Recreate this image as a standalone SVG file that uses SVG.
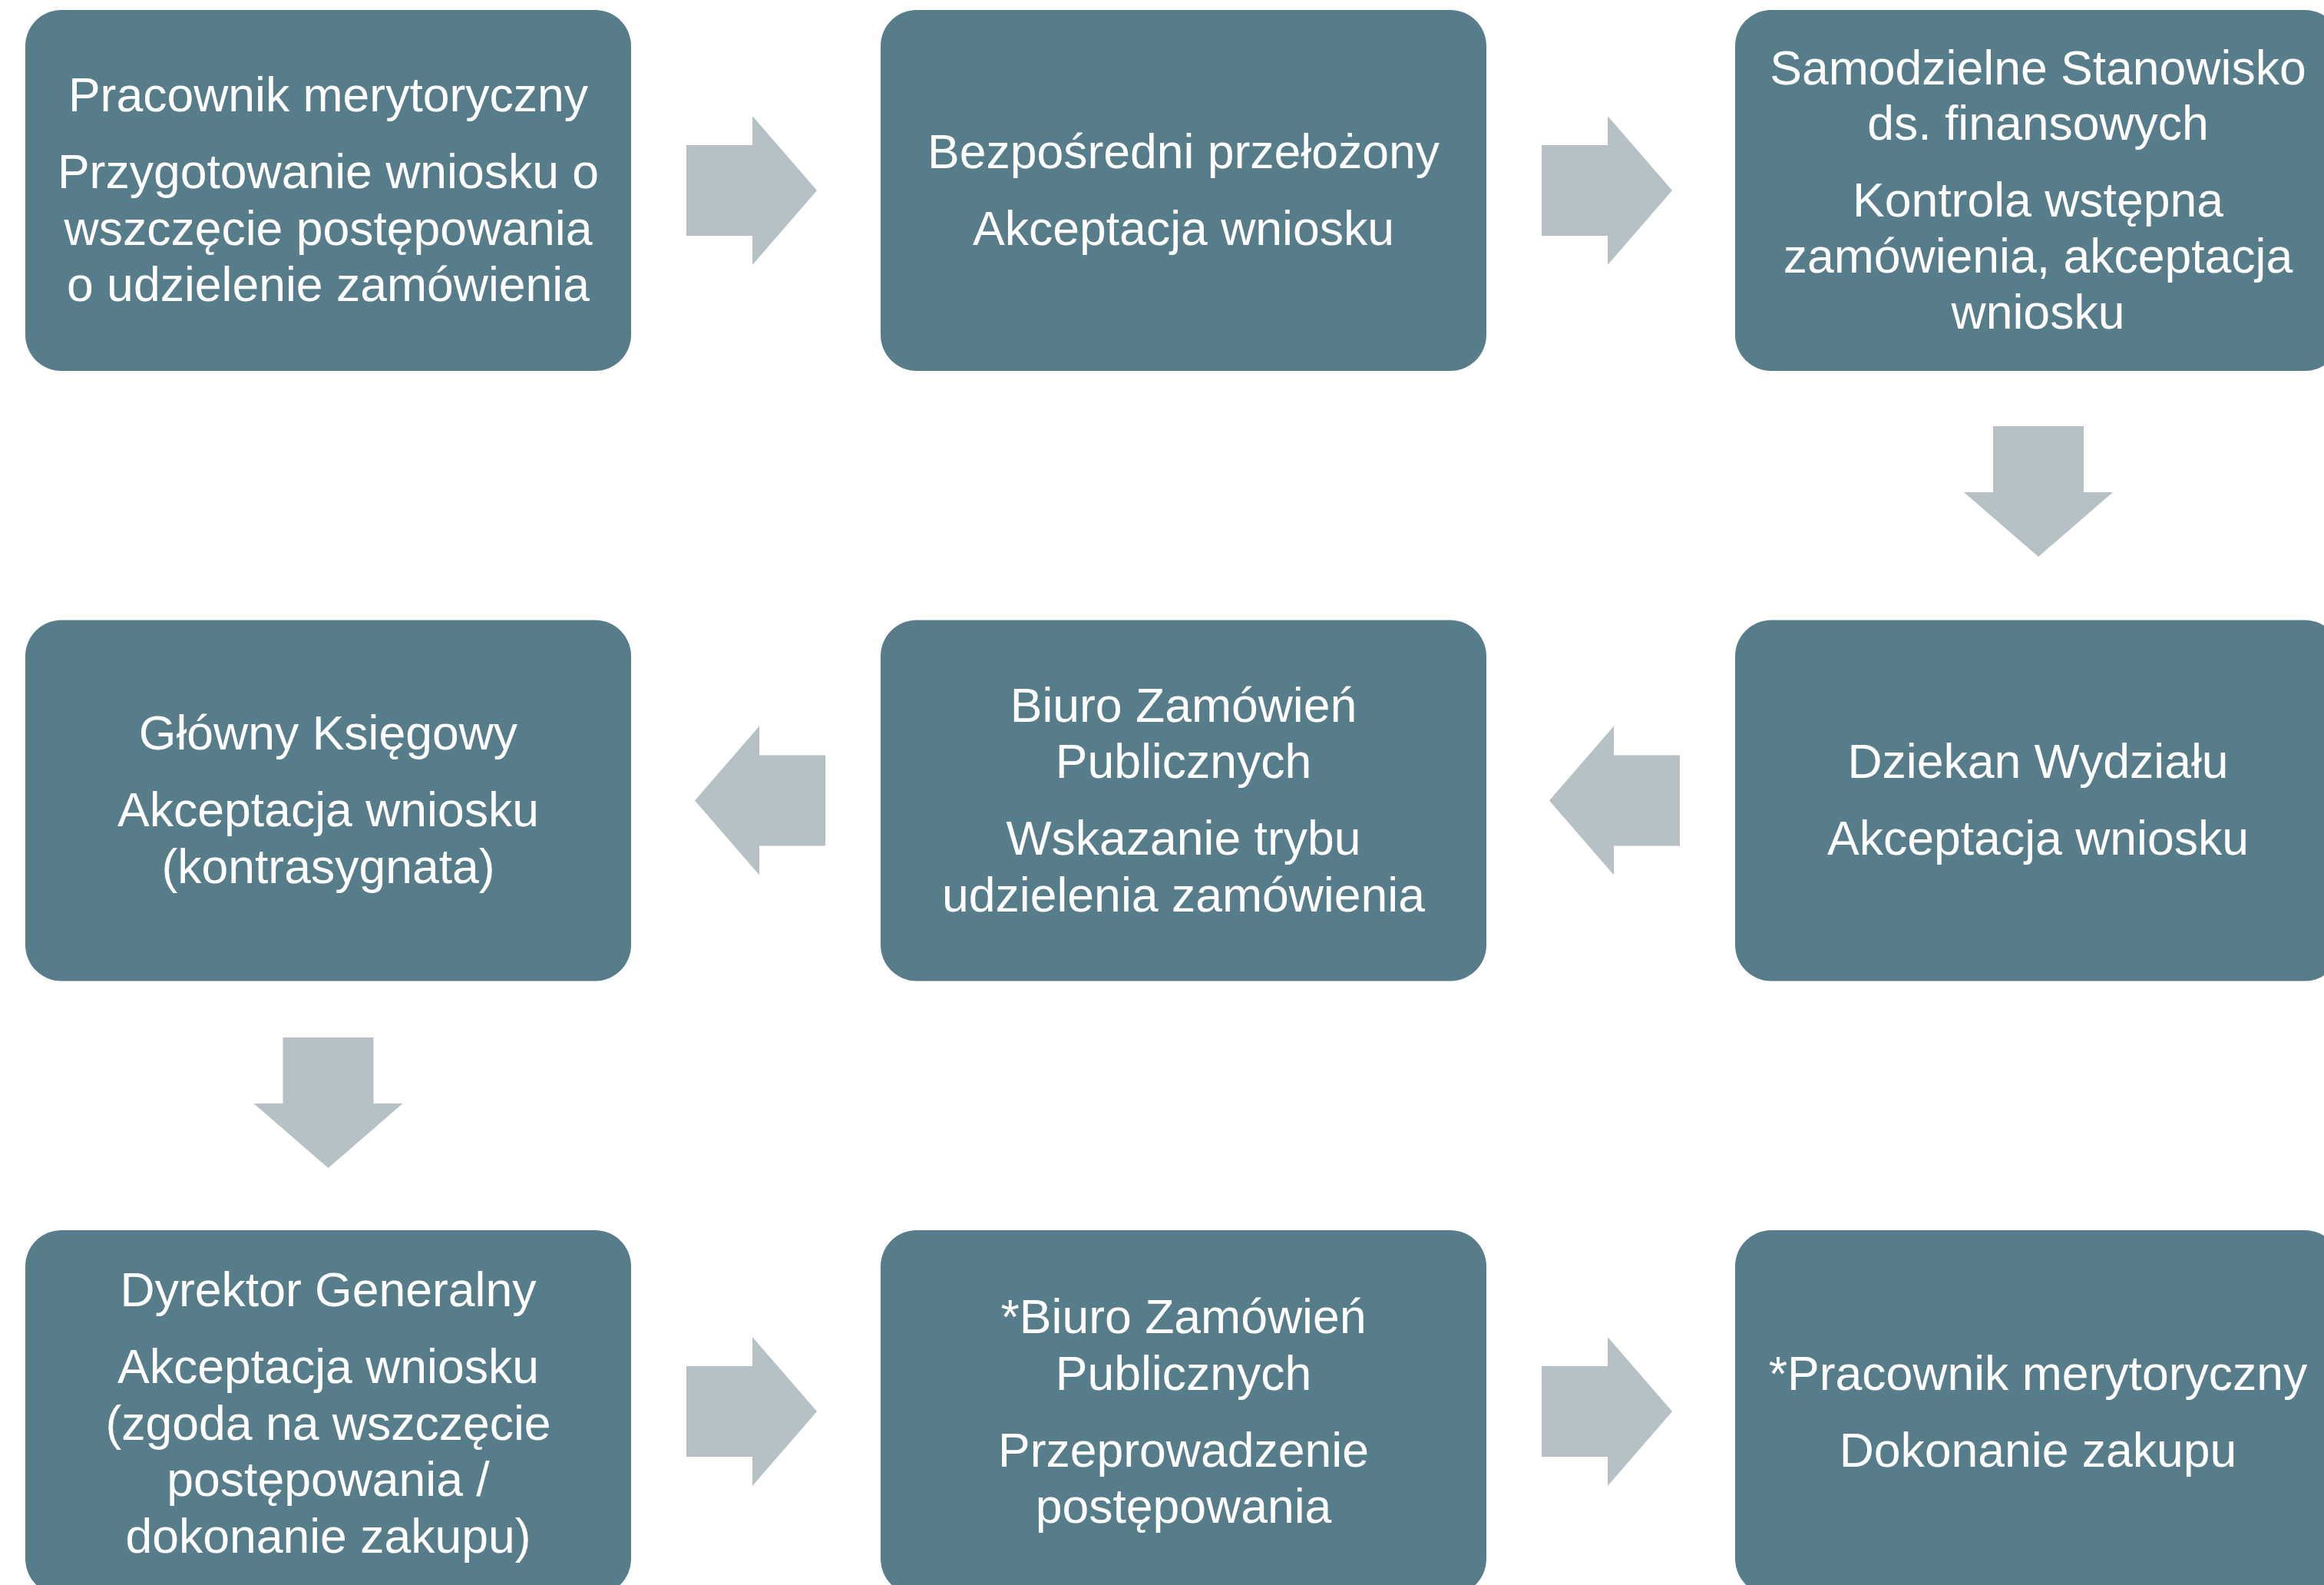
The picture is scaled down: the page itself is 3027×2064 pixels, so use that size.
<svg xmlns="http://www.w3.org/2000/svg" xmlns:xlink="http://www.w3.org/1999/xlink" width="3027" height="2064" viewBox="0 0 3027 2064">
<style>
.box{fill:#577D8A;}
.arr{fill:#B5C1C5;}
text{font-family:"Liberation Sans",Arial,sans-serif;font-size:62.5px;fill:#FFFFFF;text-anchor:middle;}
</style>
<defs>
<polygon id="ar" points="0,-59 86,-59 86,-97 170,0 86,97 86,59 0,59"/>
</defs>
<rect width="3027" height="2064" fill="#FFFFFF"/>
<g id="connectors" class="arr">
<use xlink:href="#ar" transform="translate(894,248)"/>
<use xlink:href="#ar" transform="translate(2008,248)"/>
<use xlink:href="#ar" transform="translate(2655,555) rotate(90)"/>
<use xlink:href="#ar" transform="translate(2188,1042.5) scale(-1,1)"/>
<use xlink:href="#ar" transform="translate(1075,1042.5) scale(-1,1)"/>
<use xlink:href="#ar" transform="translate(427.5,1351) rotate(90)"/>
<use xlink:href="#ar" transform="translate(894,1838)"/>
<use xlink:href="#ar" transform="translate(2008,1838)"/>
</g>
<g id="n1">
<rect class="box" x="33" y="13" width="789" height="470" rx="47"/>
<text x="427.5" y="145">Pracownik merytoryczny</text>
<text x="427.5" y="245">Przygotowanie wniosku o</text>
<text x="427.5" y="318.5">wszczęcie postępowania</text>
<text x="427.5" y="392">o udzielenie zamówienia</text>
</g>
<g id="n2">
<rect class="box" x="1147" y="13" width="789" height="470" rx="47"/>
<text x="1541.5" y="218.5">Bezpośredni przełożony</text>
<text x="1541.5" y="318.5">Akceptacja wniosku</text>
</g>
<g id="n3">
<rect class="box" x="2260" y="13" width="789" height="470" rx="47"/>
<text x="2654.5" y="110">Samodzielne Stanowisko</text>
<text x="2654.5" y="182">ds. finansowych</text>
<text x="2654.5" y="282">Kontrola wstępna</text>
<text x="2654.5" y="355">zamówienia, akceptacja</text>
<text x="2654.5" y="428">wniosku</text>
</g>
<g id="n4">
<rect class="box" x="2260" y="807.5" width="789" height="470" rx="47"/>
<text x="2654.5" y="1013">Dziekan Wydziału</text>
<text x="2654.5" y="1113">Akceptacja wniosku</text>
</g>
<g id="n5">
<rect class="box" x="1147" y="807.5" width="789" height="470" rx="47"/>
<text x="1541.5" y="940">Biuro Zamówień</text>
<text x="1541.5" y="1013">Publicznych</text>
<text x="1541.5" y="1113">Wskazanie trybu</text>
<text x="1541.5" y="1186.5">udzielenia zamówienia</text>
</g>
<g id="n6">
<rect class="box" x="33" y="807.5" width="789" height="470" rx="47"/>
<text x="427.5" y="976">Główny Księgowy</text>
<text x="427.5" y="1076">Akceptacja wniosku</text>
<text x="427.5" y="1149.5">(kontrasygnata)</text>
</g>
<g id="n7">
<rect class="box" x="33" y="1602" width="789" height="475" rx="47"/>
<text x="427.5" y="1701">Dyrektor Generalny</text>
<text x="427.5" y="1801">Akceptacja wniosku</text>
<text x="427.5" y="1874.5">(zgoda na wszczęcie</text>
<text x="427.5" y="1948">postępowania /</text>
<text x="427.5" y="2021.5">dokonanie zakupu)</text>
</g>
<g id="n8">
<rect class="box" x="1147" y="1602" width="789" height="475" rx="47"/>
<text x="1541.5" y="1736">*Biuro Zamówień</text>
<text x="1541.5" y="1809.5">Publicznych</text>
<text x="1541.5" y="1909.5">Przeprowadzenie</text>
<text x="1541.5" y="1983">postępowania</text>
</g>
<g id="n9">
<rect class="box" x="2260" y="1602" width="789" height="475" rx="47"/>
<text x="2654.5" y="1810">*Pracownik merytoryczny</text>
<text x="2654.5" y="1910">Dokonanie zakupu</text>
</g>
</svg>
